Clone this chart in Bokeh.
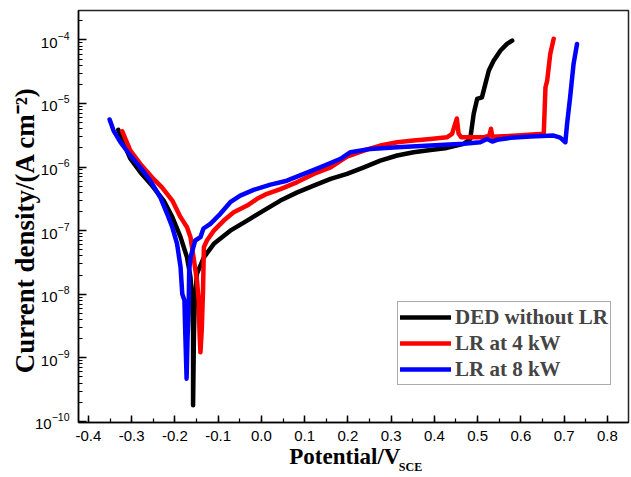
from bokeh.plotting import figure
from bokeh.models import (FixedTicker, SingleIntervalTicker, NumeralTickFormatter,
                          Range1d, LinearAxis)
from bokeh.embed import file_html
from bokeh.resources import INLINE

# ---------------- data ----------------
black_v = [-0.331, -0.318, -0.303, -0.280, -0.253, -0.226, -0.206, -0.187, -0.172, -0.164,
           -0.160, -0.158, -0.158, -0.156, -0.154, -0.149, -0.133, -0.110, -0.072, -0.033,
           0.005, 0.044, 0.083, 0.121, 0.160, 0.198, 0.237, 0.275, 0.314, 0.352, 0.391,
           0.429, 0.468, 0.483, 0.491, 0.499, 0.510, 0.518, 0.526, 0.537, 0.553, 0.568, 0.580]
black_i = [3.85e-6, 2.32e-6, 1.35e-6, 8.3e-7, 5.1e-7, 2.97e-7, 1.63e-7, 7.9e-8, 3.8e-8, 1.85e-8,
           8.0e-9, 2.4e-9, 1.8e-10, 2.4e-9, 8.0e-9, 2.1e-8, 3.8e-8, 6.2e-8, 1.0e-7, 1.44e-7,
           2.07e-7, 2.97e-7, 4.0e-7, 5.1e-7, 6.5e-7, 7.8e-7, 9.9e-7, 1.26e-6, 1.52e-6, 1.71e-6, 1.86e-6,
           2.0e-6, 2.32e-6, 2.77e-6, 6.9e-6, 1.18e-5, 1.25e-5, 2.03e-5, 3.3e-5, 4.7e-5, 6.8e-5, 8.65e-5, 9.75e-5]

red_v = [-0.322, -0.303, -0.280, -0.253, -0.230, -0.206, -0.187, -0.172, -0.164, -0.157,
         -0.149, -0.145, -0.143, -0.141, -0.138, -0.135, -0.133, -0.126, -0.110, -0.087,
         -0.064, -0.033, -0.010, 0.013, 0.044, 0.083, 0.121, 0.160, 0.198, 0.237, 0.275,
         0.314, 0.352, 0.391, 0.429, 0.441, 0.449, 0.452, 0.456, 0.462, 0.514, 0.527, 0.531,
         0.534, 0.591, 0.653, 0.655, 0.657, 0.661, 0.668, 0.676]
red_i = [3.66e-6, 1.82e-6, 1.12e-6, 6.9e-7, 4.8e-7, 2.97e-7, 1.63e-7, 1.13e-7, 7.9e-8, 3.8e-8,
         1.64e-8, 8.0e-9, 2.4e-9, 1.22e-9, 2.7e-9, 1.14e-8, 5.5e-8, 7.0e-8, 1.0e-7, 1.44e-7,
         1.94e-7, 2.48e-7, 3.16e-7, 3.8e-7, 4.5e-7, 5.8e-7, 7.8e-7, 9.9e-7, 1.46e-6, 1.82e-6, 2.18e-6,
         2.46e-6, 2.61e-6, 2.77e-6, 2.94e-6, 3.33e-6, 5.0e-6, 5.8e-6, 3.37e-6, 2.94e-6, 2.94e-6, 3.13e-6, 4.0e-6,
         3.0e-6, 3.13e-6, 3.33e-6, 7.7e-6, 1.8e-5, 2.29e-5, 6.0e-5, 1.04e-4]

blue_v = [-0.351, -0.342, -0.326, -0.303, -0.280, -0.257, -0.234, -0.218, -0.206, -0.195,
          -0.187, -0.183, -0.178, -0.176, -0.173, -0.171, -0.168, -0.167, -0.164, -0.153,
          -0.141, -0.134, -0.118, -0.095, -0.072, -0.049, -0.018, 0.021, 0.059, 0.098,
          0.136, 0.183, 0.206, 0.252, 0.314, 0.391, 0.468, 0.506, 0.522, 0.534, 0.545,
          0.576, 0.622, 0.676, 0.691, 0.703, 0.707, 0.714, 0.722, 0.730]
blue_i = [5.6e-6, 3.75e-6, 2.46e-6, 1.52e-6, 9.9e-7, 6.1e-7, 3.35e-7, 1.84e-7, 1.13e-7, 6.2e-8,
          2.66e-8, 1.01e-8, 8.0e-9, 2.4e-9, 4.7e-10, 1.87e-9, 8.0e-9, 2.36e-8, 3.8e-8, 7.0e-8,
          7.9e-8, 1.08e-7, 1.28e-7, 1.84e-7, 2.8e-7, 3.56e-7, 4.38e-7, 5.3e-7, 6.1e-7, 7.8e-7,
          9.9e-7, 1.35e-6, 1.71e-6, 1.93e-6, 2.05e-6, 2.18e-6, 2.32e-6, 2.46e-6, 2.77e-6, 2.52e-6, 2.68e-6,
          2.88e-6, 3.02e-6, 3.13e-6, 2.91e-6, 2.46e-6, 4.8e-6, 1.25e-5, 4.2e-5, 8.65e-5]

series_names = ["DED without LR", "LR at 4 kW", "LR at 8 kW"]
series_colors = ["#000000", "#ff0000", "#0000ff"]

y_major = [1e-10, 1e-9, 1e-8, 1e-7, 1e-6, 1e-5, 1e-4]
y_minor = [k * d for d in y_major for k in range(2, 10)]

NB = "\u00a0"
x_title = "Potential/V"
x_sub = "SCE"
y_title = "Current density/(A cm\u207b\u00b2)"

# ---------------- figure ----------------
p = figure(width=631, height=477, y_axis_type="log",
           x_range=Range1d(-0.423, 0.849), y_range=Range1d(9.6e-11, 2.9e-4),
           output_backend="svg", toolbar_location=None,
           min_border_left=78, min_border_right=3, min_border_top=10, min_border_bottom=55)
p.background_fill_color = "white"
p.border_fill_color = "white"
p.xgrid.visible = False
p.ygrid.visible = False
p.outline_line_color = "#222222"
p.outline_line_width = 1.5

for ax in (p.xaxis[0], p.yaxis[0]):
    ax.axis_line_width = 1.5
    ax.major_tick_line_width = 1.5
    ax.minor_tick_line_width = 1.2
    ax.major_tick_out = 0
    ax.minor_tick_out = 0
    ax.major_label_text_font = "Liberation Sans"
    ax.major_label_text_font_size = "15px"
    ax.major_label_text_color = "black"
    ax.axis_label_text_font = "Liberation Serif"
    ax.axis_label_text_font_style = "bold"
    ax.axis_label_text_color = "black"
    ax.axis_label_text_line_height = 1.0

p.xaxis.ticker = SingleIntervalTicker(interval=0.1, num_minor_ticks=2)
p.xaxis.formatter = NumeralTickFormatter(format="0.0")
p.xaxis.major_tick_in = 7
p.xaxis.minor_tick_in = 4
p.xaxis.major_label_standoff = 8
p.xaxis.axis_label = x_title + NB * 3
p.xaxis.axis_label_text_font_size = "23px"
p.xaxis.axis_label_standoff = 0

p.yaxis.ticker = FixedTicker(ticks=y_major, minor_ticks=y_minor)
p.yaxis.major_tick_in = 8
p.yaxis.minor_tick_in = 4
p.yaxis.major_label_standoff = 9
p.yaxis.axis_label = y_title + NB * 4
p.yaxis.axis_label_text_font_size = "27px"
p.yaxis.axis_label_standoff = -8

# subscript of the x title, carried by a bare secondary axis
sub_ax = LinearAxis(ticker=FixedTicker(ticks=[]), axis_label=NB * 38 + x_sub,
                    axis_line_alpha=0, major_tick_in=0, major_tick_out=0,
                    minor_tick_in=0, minor_tick_out=0, major_label_standoff=0,
                    axis_label_standoff=-12, axis_label_text_line_height=1.0,
                    axis_label_text_font="Liberation Serif", axis_label_text_font_style="bold",
                    axis_label_text_font_size="12px", axis_label_text_color="black")
p.add_layout(sub_ax, "below")

data = [(black_v, black_i), (red_v, red_i), (blue_v, blue_i)]
for (v, i), name, col in zip(data, series_names, series_colors):
    p.line(v, i, line_color=col, line_width=4.5, line_join="round", line_cap="round",
           legend_label=name)

lg = p.legend[0]
lg.location = (319, 37)
lg.border_line_color = "#555555"
lg.border_line_width = 1
lg.background_fill_alpha = 1
lg.label_text_font = "Liberation Serif"
lg.label_text_font_style = "bold"
lg.label_text_font_size = "21px"
lg.label_height = 26
lg.glyph_height = 26
lg.glyph_width = 51
lg.label_standoff = 4
lg.spacing = 0
lg.padding = 2
lg.margin = 0

open("out.html", "w").write(file_html(p, INLINE))
